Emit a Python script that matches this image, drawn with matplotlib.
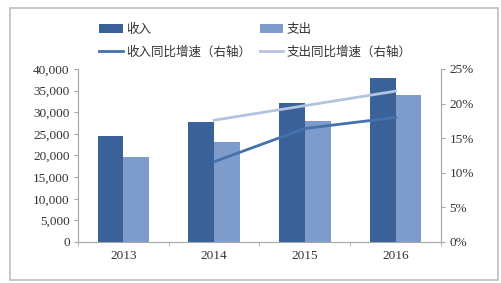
import numpy as np
import matplotlib.pyplot as plt
from matplotlib.patches import Rectangle
from matplotlib.ticker import FuncFormatter

plt.rcParams['font.family'] = ['Liberation Serif', 'Noto Sans CJK SC']

years = ['2013', '2014', '2015', '2016']
income = [24600, 27700, 32200, 38000]
expense = [19700, 23200, 27900, 34000]
growth_years = ['2014', '2015', '2016']
income_growth = [11.6, 16.4, 18.0]
expense_growth = [17.6, 19.7, 21.8]

c_inc = '#3b6298'
c_exp = '#7d9ccb'
c_inc_line = '#4571ad'
c_exp_line = '#b3c4df'
grey = '#a6a6a6'

fig = plt.figure(figsize=(5.01, 2.83), dpi=100)
ax = fig.add_axes([0.1557, 0.1449, 0.7245, 0.6113])
ax2 = ax.twinx()

x = np.arange(len(years))
w = 0.285
b1 = ax.bar(x - w / 2, income, w, color=c_inc, zorder=2, label='收入')
b2 = ax.bar(x + w / 2, expense, w, color=c_exp, zorder=2, label='支出')
ax.set_xlim(-0.5, len(years) - 0.5)
ax.set_ylim(0, 40000)
ax.set_yticks(range(0, 40001, 5000))
ax.yaxis.set_major_formatter(FuncFormatter(lambda v, p: f'{int(v):,}'))
ax.set_xticks(x)
ax.set_xticklabels(years)
ax.set_xticks(np.arange(-0.5, len(years)), minor=True)
ax.tick_params(axis='x', which='major', length=0, pad=6)
ax.tick_params(axis='x', which='minor', length=3, color=grey)
ax.tick_params(axis='y', length=3, color=grey, pad=3)

gx = [years.index(y) for y in growth_years]
l1, = ax2.plot(gx, income_growth, color=c_inc_line, lw=2, label='收入同比增速（右轴）')
l2, = ax2.plot(gx, expense_growth, color=c_exp_line, lw=2, label='支出同比增速（右轴）')
ax2.set_ylim(0, 25)
ax2.set_yticks(range(0, 26, 5))
ax2.yaxis.set_major_formatter(FuncFormatter(lambda v, p: f'{int(v)}%'))
ax2.tick_params(axis='y', length=3, color=grey, pad=3)

for a in (ax, ax2):
    a.spines['top'].set_visible(False)
    for s in ('left', 'right', 'bottom'):
        a.spines[s].set_color(grey)
    a.tick_params(labelsize=9.5, labelcolor='#333333')
ax.spines['right'].set_visible(False)
ax2.spines['left'].set_visible(False)
ax2.spines['bottom'].set_visible(False)

leg = fig.legend(handles=[b1, l1, b2, l2], ncol=2, loc='upper left',
                 bbox_to_anchor=(0.175, 0.958), frameon=False,
                 prop={'family': 'Noto Sans CJK SC', 'size': 9},
                 handlelength=1.9, handletextpad=0.25, columnspacing=0.7,
                 labelspacing=0.75)
for t in leg.get_texts():
    t.set_color('#333333')

fig.patches.append(Rectangle((0.02, 0.012), 0.975, 0.96, transform=fig.transFigure,
                             fill=False, edgecolor='#bfbfbf', lw=1.2))

fig.savefig('out.png', dpi=100)
